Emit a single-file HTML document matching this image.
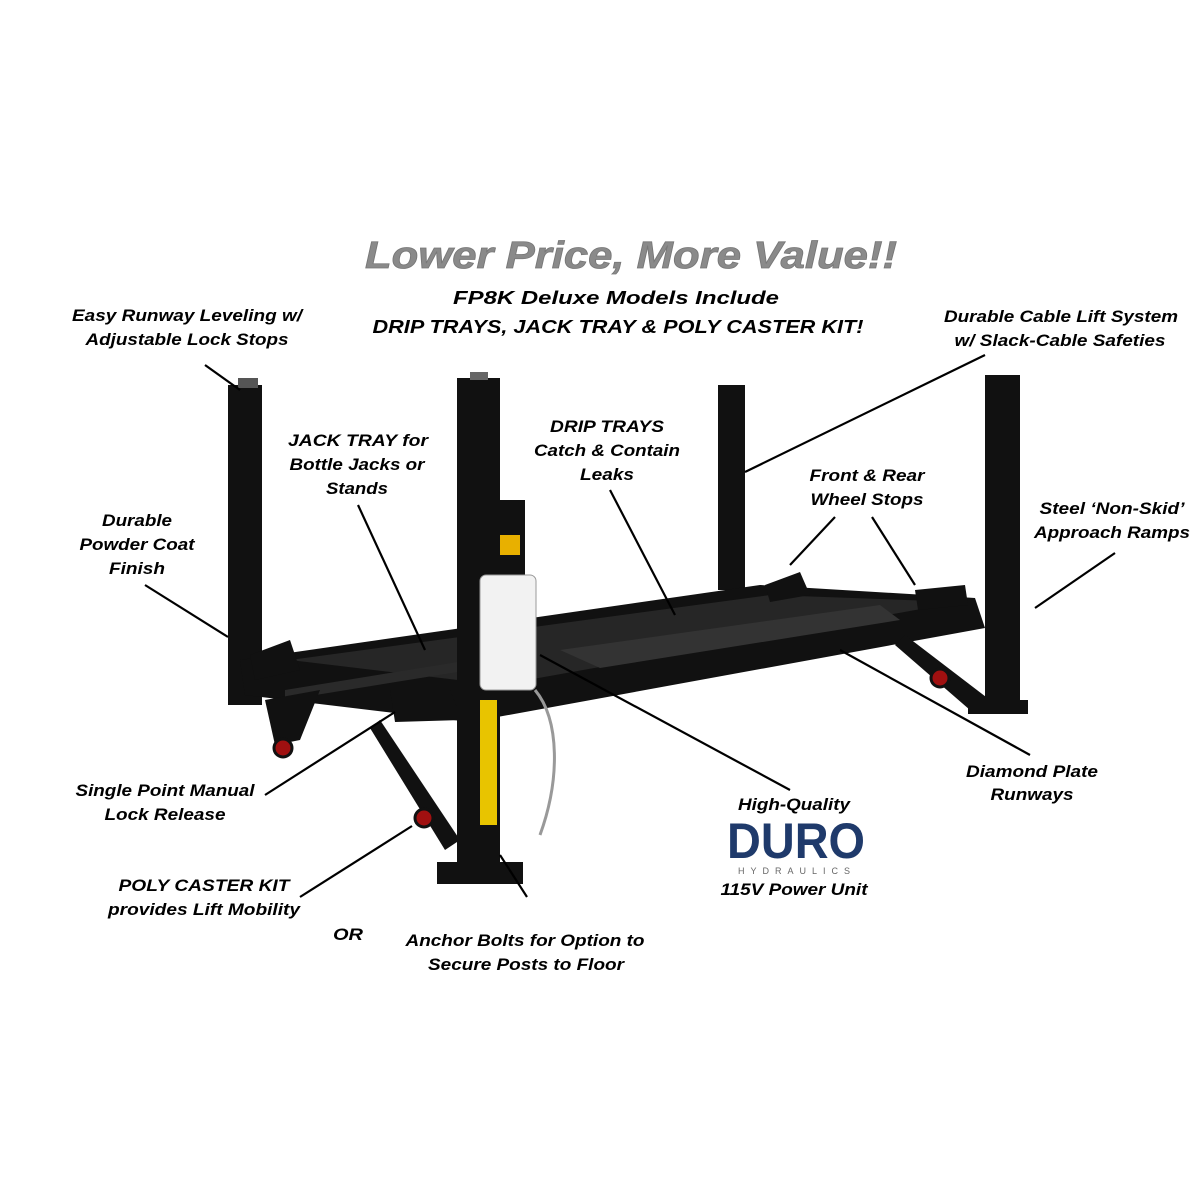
<!DOCTYPE html>
<html><head><meta charset="utf-8"><style>
html,body{margin:0;padding:0;background:#fff}
svg{display:block}
text{font-family:"Liberation Sans",sans-serif;font-weight:bold;font-style:italic}
</style></head><body>
<svg width="1200" height="1200" viewBox="0 0 1200 1200" xmlns="http://www.w3.org/2000/svg">
<rect width="1200" height="1200" fill="#fff"/>
<text x="631" y="268" font-size="38" fill="#8a8a8a" text-anchor="middle" stroke="#777" stroke-width="0.8" textLength="532" lengthAdjust="spacingAndGlyphs">Lower Price, More Value!!</text>
<text x="616" y="304" font-size="18" fill="#000" text-anchor="middle" textLength="326" lengthAdjust="spacingAndGlyphs">FP8K Deluxe Models Include</text>
<text x="618" y="333" font-size="18" fill="#000" text-anchor="middle" textLength="491" lengthAdjust="spacingAndGlyphs">DRIP TRAYS, JACK TRAY &amp; POLY CASTER KIT!</text>

<g fill="#111">
<rect x="228" y="385" width="34" height="320"/>
<rect x="238" y="378" width="20" height="10" fill="#555"/>
<rect x="718" y="385" width="27" height="205"/>
<rect x="985" y="375" width="35" height="335"/>
<rect x="968" y="700" width="60" height="14"/>
<polygon points="240,660 760,585 975,598 985,628 470,722 245,695"/>
<polygon points="290,660 770,595 960,602 500,685" fill="#262626"/>
<polygon points="560,650 880,605 900,620 600,668" fill="#333"/>
<polygon points="285,690 470,660 470,670 285,700" fill="#2a2a2a"/>
<polygon points="905,635 990,700 970,710 895,645"/>
<polygon points="380,720 460,840 445,850 370,728"/>
<polygon points="265,700 320,690 300,740 275,745"/>
<polygon points="765,585 800,572 810,595 770,602"/>
<polygon points="915,590 965,585 968,605 918,610"/>
<polygon points="250,655 290,640 300,670 255,680"/>
<polygon points="390,690 450,690 462,720 395,722"/>
<rect x="457" y="378" width="43" height="500"/>
<rect x="437" y="862" width="86" height="22"/>
<rect x="470" y="372" width="18" height="8" fill="#666"/>
<rect x="480" y="700" width="17" height="125" fill="#e8c400"/>
<rect x="485" y="500" width="40" height="75"/>
<rect x="500" y="535" width="20" height="20" fill="#e8b000"/>
<rect x="480" y="575" width="56" height="115" rx="6" fill="#f2f2f2" stroke="#999"/>
</g>
<circle cx="283" cy="748" r="9" fill="#a01010" stroke="#111" stroke-width="3"/>
<circle cx="424" cy="818" r="9" fill="#a01010" stroke="#111" stroke-width="3"/>
<circle cx="940" cy="678" r="9" fill="#a01010" stroke="#111" stroke-width="3"/>
<path d="M535,690 C560,720 560,780 540,835" fill="none" stroke="#999" stroke-width="3"/>

<g stroke="#000" stroke-width="2.2" fill="none">
<line x1="205" y1="365" x2="240" y2="390"/>
<line x1="145" y1="585" x2="228" y2="637"/>
<line x1="358" y1="505" x2="425" y2="650"/>
<line x1="610" y1="490" x2="675" y2="615"/>
<line x1="985" y1="355" x2="745" y2="472"/>
<line x1="835" y1="517" x2="790" y2="565"/>
<line x1="872" y1="517" x2="915" y2="585"/>
<line x1="1115" y1="553" x2="1035" y2="608"/>
<line x1="1030" y1="755" x2="840" y2="650"/>
<line x1="790" y1="790" x2="540" y2="655"/>
<line x1="265" y1="795" x2="395" y2="712"/>
<line x1="300" y1="897" x2="412" y2="826"/>
<line x1="527" y1="897" x2="500" y2="855"/>
</g>

<g font-size="17" fill="#000" text-anchor="middle" lengthAdjust="spacingAndGlyphs">
<text x="187" y="321" textLength="230" lengthAdjust="spacingAndGlyphs">Easy Runway Leveling w/</text>
<text x="187" y="345" textLength="203" lengthAdjust="spacingAndGlyphs">Adjustable Lock Stops</text>
<text x="1061" y="322" textLength="234" lengthAdjust="spacingAndGlyphs">Durable Cable Lift System</text>
<text x="1060" y="346" textLength="211" lengthAdjust="spacingAndGlyphs">w/ Slack-Cable Safeties</text>
<text x="358" y="446" textLength="140" lengthAdjust="spacingAndGlyphs">JACK TRAY for</text>
<text x="357" y="470" textLength="135" lengthAdjust="spacingAndGlyphs">Bottle Jacks or</text>
<text x="357" y="494" textLength="62" lengthAdjust="spacingAndGlyphs">Stands</text>
<text x="607" y="432" textLength="114" lengthAdjust="spacingAndGlyphs">DRIP TRAYS</text>
<text x="607" y="456" textLength="146" lengthAdjust="spacingAndGlyphs">Catch &amp; Contain</text>
<text x="607" y="480" textLength="54" lengthAdjust="spacingAndGlyphs">Leaks</text>
<text x="867" y="481" textLength="115" lengthAdjust="spacingAndGlyphs">Front &amp; Rear</text>
<text x="867" y="505" textLength="113" lengthAdjust="spacingAndGlyphs">Wheel Stops</text>
<text x="137" y="526" textLength="70" lengthAdjust="spacingAndGlyphs">Durable</text>
<text x="137" y="550" textLength="115" lengthAdjust="spacingAndGlyphs">Powder Coat</text>
<text x="137" y="574" textLength="56" lengthAdjust="spacingAndGlyphs">Finish</text>
<text x="1112" y="514" textLength="145" lengthAdjust="spacingAndGlyphs">Steel ‘Non-Skid’</text>
<text x="1112" y="538" textLength="156" lengthAdjust="spacingAndGlyphs">Approach Ramps</text>
<text x="165" y="796" textLength="179" lengthAdjust="spacingAndGlyphs">Single Point Manual</text>
<text x="165" y="820" textLength="121" lengthAdjust="spacingAndGlyphs">Lock Release</text>
<text x="1032" y="777" textLength="132" lengthAdjust="spacingAndGlyphs">Diamond Plate</text>
<text x="1032" y="800" textLength="83" lengthAdjust="spacingAndGlyphs">Runways</text>
<text x="794" y="810" textLength="112" lengthAdjust="spacingAndGlyphs">High-Quality</text>
<text x="794" y="895" textLength="147" lengthAdjust="spacingAndGlyphs">115V Power Unit</text>
<text x="204" y="891" textLength="171" lengthAdjust="spacingAndGlyphs">POLY CASTER KIT</text>
<text x="204" y="915" textLength="192" lengthAdjust="spacingAndGlyphs">provides Lift Mobility</text>
<text x="348" y="940" textLength="30" lengthAdjust="spacingAndGlyphs">OR</text>
<text x="525" y="946" textLength="239" lengthAdjust="spacingAndGlyphs">Anchor Bolts for Option to</text>
<text x="526" y="970" textLength="196" lengthAdjust="spacingAndGlyphs">Secure Posts to Floor</text>
</g>
<text x="796" y="858" font-size="50" fill="#1f3a6b" text-anchor="middle" style="font-style:normal" textLength="138" lengthAdjust="spacingAndGlyphs">DURO</text>
<text x="797" y="874" font-size="9" fill="#666" text-anchor="middle" style="font-style:normal;font-weight:normal" letter-spacing="6">HYDRAULICS</text>
</svg>
</body></html>
